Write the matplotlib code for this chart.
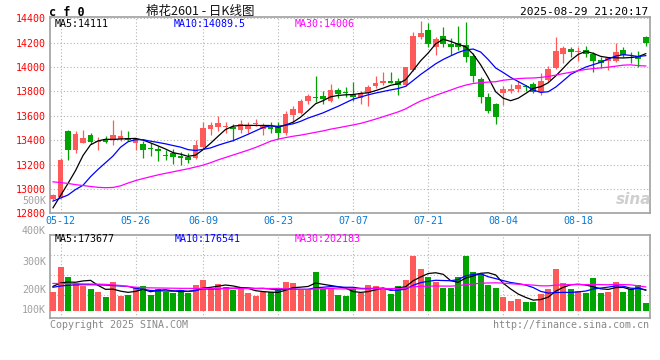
import numpy as np
import pandas as pd
import matplotlib
matplotlib.use('Agg')
import matplotlib.pyplot as plt

# trading days shown (06-02 was the Dragon Boat holiday)
days = pd.bdate_range('2025-05-09', '2025-08-29')
days = days[days != pd.Timestamp('2025-06-02')]
labels = [d.strftime('%m-%d') for d in days]
tick_dates = ['05-12', '05-26', '06-09', '06-23', '07-07', '07-21', '08-04', '08-18']

opens = [12917, 12936, 13477, 13319, 13379, 13442, 13387, 13407, 13407, 13407,
         13415, 13379, 13368, 13338, 13330, 13281, 13297, 13270, 13259, 13256,
         13341, 13489, 13510, 13505, 13510, 13483, 13489, 13530, 13489, 13505,
         13505, 13456, 13606, 13625, 13718, 13756, 13760, 13723, 13811, 13791,
         13778, 13743, 13784, 13844, 13866, 13887, 13887, 13852, 13975, 14248,
         14303, 14166, 14254, 14188, 14196, 14180, 14090, 13899, 13756, 13696,
         13784, 13803, 13817, 13846, 13860, 13797, 13893, 13989, 14110, 14147,
         14120, 14137, 14106, 14057, 14051, 14051, 14139, 14084, 14090, 14243]
highs = [12958, 13256, 13483, 13475, 13483, 13456, 13423, 13434, 13565, 13483,
         13475, 13420, 13395, 13374, 13354, 13319, 13325, 13305, 13297, 13401,
         13551, 13551, 13598, 13551, 13532, 13565, 13551, 13571, 13538, 13551,
         13551, 13641, 13679, 13735, 13778, 13926, 13805, 13858, 13830, 13836,
         13877, 13805, 13852, 13926, 13961, 13955, 13907, 14002, 14289, 14375,
         14360, 14248, 14330, 14238, 14336, 14371, 14112, 13920, 13784, 13702,
         13844, 13860, 13887, 13856, 13879, 13948, 14007, 14242, 14172, 14166,
         14164, 14172, 14122, 14084, 14084, 14199, 14161, 14125, 14133, 14254]
lows = [12909, 12923, 13237, 13292, 13379, 13366, 13320, 13379, 13360, 13395,
        13395, 13319, 13256, 13270, 13231, 13237, 13204, 13196, 13215, 13243,
        13327, 13442, 13477, 13461, 13395, 13461, 13461, 13516, 13442, 13456,
        13407, 13442, 13551, 13615, 13695, 13715, 13700, 13715, 13743, 13756,
        13721, 13700, 13680, 13825, 13850, 13866, 13770, 13844, 13969, 14227,
        14166, 14098, 14166, 14098, 14139, 14041, 13879, 13702, 13620, 13536,
        13688, 13784, 13797, 13805, 13789, 13770, 13877, 13981, 14035, 14082,
        14049, 14084, 13959, 13989, 13975, 14043, 14084, 14030, 14002, 14172]
closes = [12950, 13237, 13319, 13450, 13415, 13387, 13397, 13387, 13442, 13434,
          13401, 13407, 13319, 13325, 13313, 13272, 13259, 13256, 13237, 13360,
          13497, 13522, 13543, 13516, 13494, 13532, 13522, 13538, 13516, 13492,
          13461, 13614, 13653, 13723, 13760, 13743, 13740, 13811, 13778, 13787,
          13754, 13787, 13833, 13871, 13887, 13871, 13852, 13997, 14254, 14281,
          14188, 14227, 14188, 14164, 14168, 14079, 13926, 13751, 13641, 13587,
          13817, 13822, 13852, 13836, 13797, 13885, 13983, 14131, 14155, 14120,
          14128, 14106, 14051, 14030, 14071, 14120, 14098, 14071, 14063, 14194]
volumes = [158500, 372800, 287100, 235700, 212500, 184300, 158500, 115700, 244200, 126800,
           132800, 198800, 210000, 135400, 186800, 158500, 150000, 178300, 150000, 218500,
           261400, 184300, 227100, 201400, 178300, 192800, 150000, 126800, 162800, 154300,
           181700, 244200, 235700, 184300, 184300, 329900, 188500, 184300, 132800, 124300,
           181700, 152500, 218500, 210000, 192800, 141400, 210000, 261400, 469600, 355700,
           287100, 244200, 195400, 195400, 287100, 469600, 329900, 312800, 218500, 192800,
           115700, 81400, 98600, 72800, 75400, 141400, 184300, 355700, 235700, 184300,
           167100, 150000, 278500, 150000, 158500, 244200, 158500, 184300, 218500, 64300]

# moving-average values before the window fills
ma5_head = [12845, 12945, 13045, 13150]
ma10_head = [12900, 12925, 12950, 12995, 13030, 13100, 13160, 13215, 13270]
ma30_head = [13058, 13052, 13045, 13035, 13028, 13020, 13013, 13010, 13012, 13025,
             13048, 13068, 13085, 13100, 13115, 13128, 13140, 13153, 13165, 13180,
             13195, 13215, 13238, 13258, 13278, 13298, 13318, 13340, 13365]
vma5_head = [207000, 236000, 244000, 242000]
vma10_head = [199000, 210000, 216000, 220000, 221000, 221000, 220000, 218000, 214000]
vma30_head = [232000, 231000, 230000, 229000, 228000, 227000, 226000, 224000, 220000, 214000,
              206000, 200000, 196000, 194000, 193000, 192000, 191000, 190000, 190000, 189000,
              189000, 189000, 188000, 188000, 188000, 188000, 188000, 188000, 188000]


def moving_avg(values, n, head):
    ma = pd.Series(values, dtype=float).rolling(n).mean().to_numpy()
    ma[:n - 1] = head
    return ma


RED = '#ff5a5a'
GREEN = '#00a400'
GRID = '#b4b4b4'
FRAME = '#a0a0a0'
MONO = 'DejaVu Sans Mono'
W, H = 660, 360

x = np.arange(len(days))
o = np.array(opens)
c = np.array(closes)
colors = [RED if cc >= oo else GREEN for oo, cc in zip(o, c)]
tick_pos = [labels.index(t) for t in tick_dates]

fig = plt.figure(figsize=(6.6, 3.6), dpi=100)


def box(l, t, r, b):
    return [l / W, 1 - b / H, (r - l) / W, (b - t) / H]


def ftext(px, py, s, **kw):
    kw.setdefault('va', 'center')
    kw.setdefault('family', MONO)
    kw.setdefault('fontsize', 7.2)
    fig.text(px / W, 1 - py / H, s, **kw)


ax = fig.add_axes(box(50, 17, 649.5, 213.3))
axv = fig.add_axes(box(50, 234.7, 649.5, 318.3))

# --- price panel
ax.vlines(x, lows, highs, colors=colors, lw=0.9, zorder=2)
ax.bar(x, np.maximum(np.abs(c - o), 6), bottom=np.minimum(o, c), width=0.76,
       color=colors, zorder=3)
ax.plot(x, moving_avg(closes, 5, ma5_head), color='black', lw=0.9, zorder=4)
ax.plot(x, moving_avg(closes, 10, ma10_head), color='#0000ff', lw=0.9, zorder=4)
ax.plot(x, moving_avg(closes, 30, ma30_head), color='#ff00ff', lw=0.9, zorder=4)
ax.set_xlim(-0.4, 79.5)
ax.set_ylim(12800, 14410)
ax.set_yticks(range(12800, 14401, 200))
ax.set_xticks(tick_pos)
ax.set_xticklabels(tick_dates)
ax.tick_params(length=0, pad=3, labelsize=7.2)
ax.tick_params(axis='x', colors='#0a78d2', pad=2)
ax.tick_params(axis='y', colors='#ff0000')
for t in ax.get_xticklabels() + ax.get_yticklabels():
    t.set_family(MONO)
ax.grid(True, ls=(0, (1, 2)), color=GRID, lw=0.8)
ax.set_axisbelow(True)

# --- volume panel
axv.bar(x, volumes, width=0.8, color=colors, zorder=3)
axv.plot(x, moving_avg(volumes, 5, vma5_head), color='black', lw=0.9, zorder=4)
axv.plot(x, moving_avg(volumes, 10, vma10_head), color='#0000ff', lw=0.9, zorder=4)
axv.plot(x, moving_avg(volumes, 30, vma30_head), color='#ff00ff', lw=0.9, zorder=4)
axv.set_xlim(-0.4, 79.5)
axv.set_ylim(-66800, 649600)
axv.set_xticks(tick_pos)
axv.set_xticklabels([])
axv.set_yticks([])
axv.tick_params(length=0)
axv.grid(True, axis='x', ls=(0, (1, 2)), color=GRID, lw=0.8)
for f in (0.282, 0.521, 0.761):
    axv.plot([0, 1], [f, f], transform=axv.transAxes, ls=(0, (1, 2)),
             color=GRID, lw=0.8, zorder=1)
axv.set_axisbelow(True)

for a in (ax, axv):
    for s in a.spines.values():
        s.set_color(FRAME)
        s.set_linewidth(1.2)

# --- texts
ftext(49, 12, 'c f 0', fontsize=8.5, weight='bold')
ftext(200, 11, '棉花2601 - 日K线图', family=['Noto Sans CJK SC', 'DejaVu Sans'],
      fontsize=9, ha='center', color='#111111')
ftext(648, 12, '2025-08-29 21:20:17', ha='right', fontsize=8)

ftext(55, 24, 'MA5:14111', color='black')
ftext(174, 24, 'MA10:14089.5', color='#0000ff')
ftext(295, 24, 'MA30:14006', color='#ff00ff')

ftext(55, 238.5, 'MA5:173677', color='black')
ftext(174.5, 238.5, 'MA10:176541', color='#0000ff')
ftext(294.5, 238.5, 'MA30:202183', color='#ff00ff')

for lab, py in [('500K', 200.7), ('400K', 230.7), ('300K', 261.7),
                ('200K', 290), ('100K', 310)]:
    ftext(46, py, lab, ha='right', color='#a0a0a0')

ftext(50, 324.5, 'Copyright 2025 SINA.COM', color='#888888')
ftext(649, 324.5, 'http://finance.sina.com.cn', ha='right', color='#888888')

ftext(634, 199, 'sina', ha='center', family='DejaVu Sans', fontsize=11,
      weight='bold', style='italic', color='#cfcfcf')

fig.savefig('out.png', dpi=100)
